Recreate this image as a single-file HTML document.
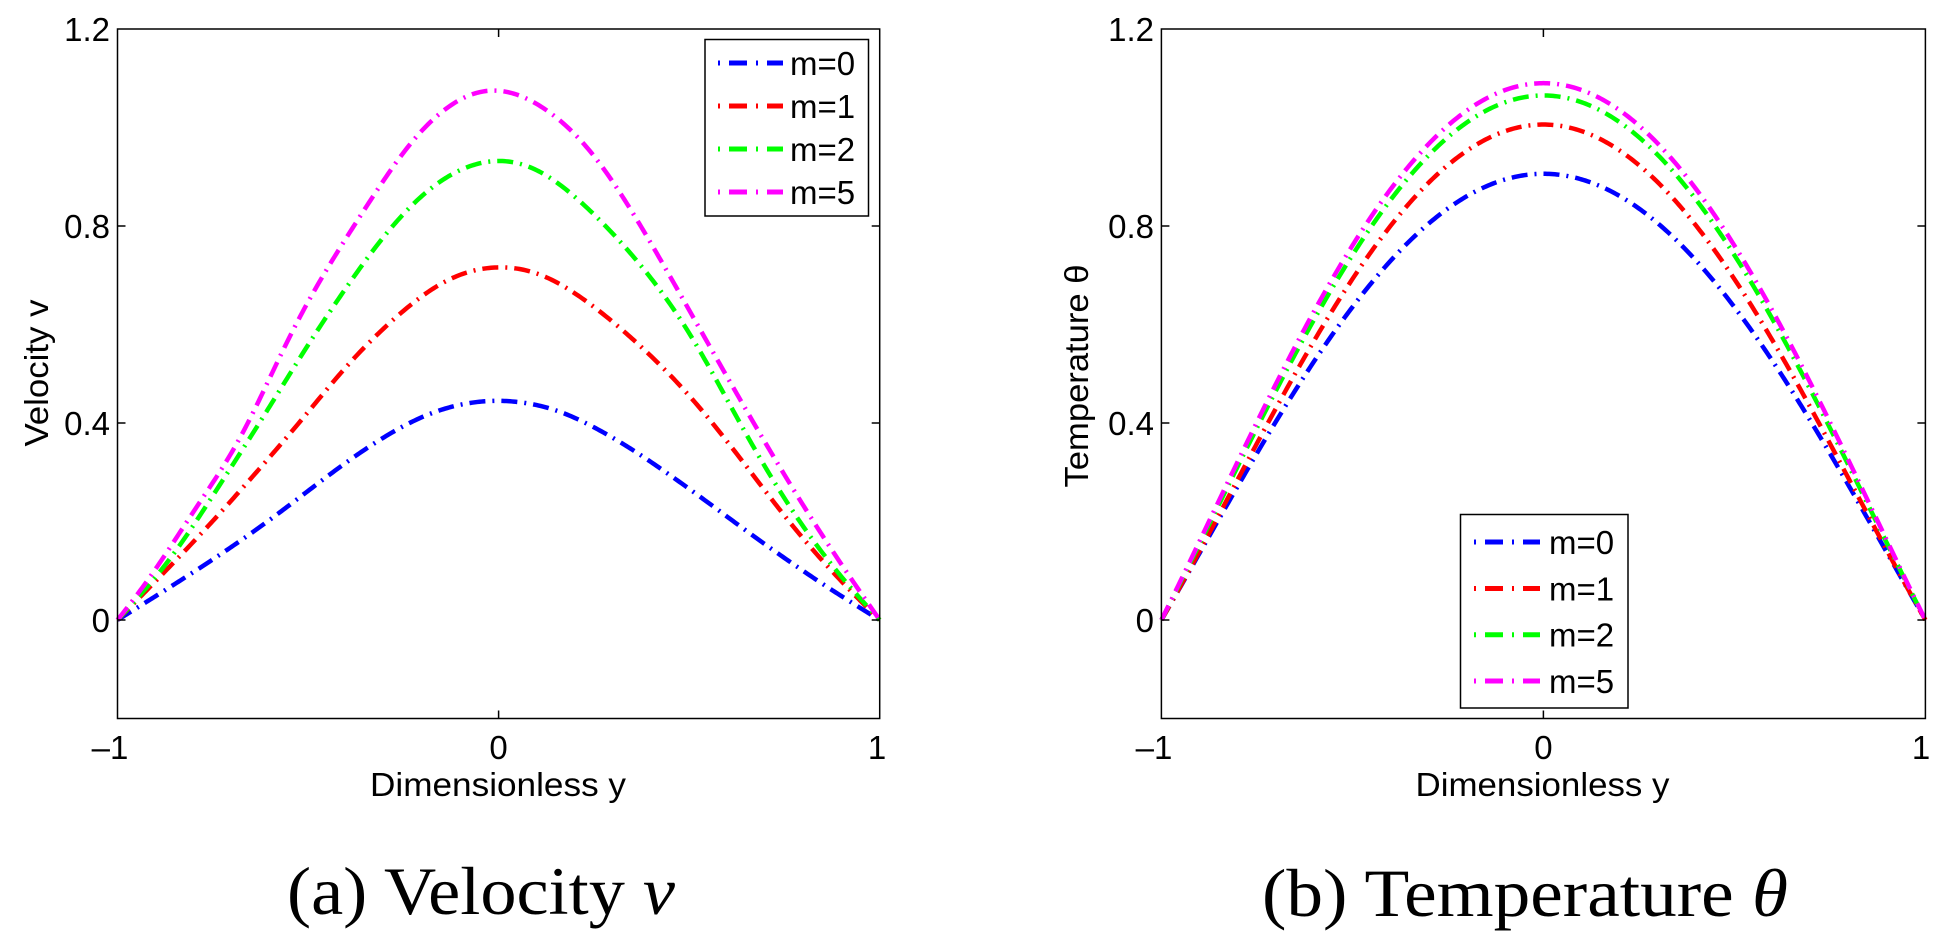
<!DOCTYPE html>
<html><head><meta charset="utf-8"><style>
html,body{margin:0;padding:0;background:#fff;}
svg{display:block;}
text{font-family:"Liberation Sans",sans-serif;fill:#000;}
.cap{font-family:"Liberation Serif",serif;}
</style></head><body>
<svg id="s" width="1946" height="948" viewBox="0 0 1946 948" xmlns="http://www.w3.org/2000/svg">
<rect width="1946" height="948" fill="#fff"/>
<g id="curves"></g>
<rect x="117.5" y="29" width="762.2" height="689.5" fill="none" stroke="#000" stroke-width="1.5"/>
<g stroke="#000" stroke-width="1.5">
<line x1="117.5" y1="620" x2="125.5" y2="620"/><line x1="117.5" y1="423" x2="125.5" y2="423"/><line x1="117.5" y1="226" x2="125.5" y2="226"/>
<line x1="879.7" y1="620" x2="871.7" y2="620"/><line x1="879.7" y1="423" x2="871.7" y2="423"/><line x1="879.7" y1="226" x2="871.7" y2="226"/>
<line x1="498.6" y1="718.5" x2="498.6" y2="710.5"/><line x1="498.6" y1="29" x2="498.6" y2="37"/>
<line x1="1161.4" y1="620" x2="1169.4" y2="620"/><line x1="1161.4" y1="423" x2="1169.4" y2="423"/><line x1="1161.4" y1="226" x2="1169.4" y2="226"/>
<line x1="1925.4" y1="620" x2="1917.4" y2="620"/><line x1="1925.4" y1="423" x2="1917.4" y2="423"/><line x1="1925.4" y1="226" x2="1917.4" y2="226"/>
<line x1="1543.4" y1="718.5" x2="1543.4" y2="710.5"/><line x1="1543.4" y1="29" x2="1543.4" y2="37"/>
</g>
<rect x="1161.4" y="29" width="764" height="689.5" fill="none" stroke="#000" stroke-width="1.5"/>
<g font-size="33" text-anchor="end">
<text x="110" y="632">0</text><text x="110" y="435">0.4</text><text x="110" y="238">0.8</text><text x="110" y="41">1.2</text>
<text x="1154" y="632">0</text><text x="1154" y="435">0.4</text><text x="1154" y="238">0.8</text><text x="1154" y="41">1.2</text>
</g>
<g font-size="33" text-anchor="middle">
<text x="110" y="759">–1</text><text x="498.6" y="759">0</text><text x="877" y="759">1</text>
<text x="1154" y="759">–1</text><text x="1543.4" y="759">0</text><text x="1921" y="759">1</text>
<text x="498" y="796" textLength="256" lengthAdjust="spacingAndGlyphs">Dimensionless y</text>
<text x="1542.5" y="796" textLength="254" lengthAdjust="spacingAndGlyphs">Dimensionless y</text>
<text transform="translate(48,373) rotate(-90)" textLength="147" lengthAdjust="spacingAndGlyphs">Velocity v</text>
<text transform="translate(1088,376) rotate(-90)" textLength="223" lengthAdjust="spacingAndGlyphs">Temperature θ</text>
</g>
<text class="cap" x="287" y="914" font-size="68" textLength="388" lengthAdjust="spacingAndGlyphs">(a)  Velocity <tspan font-style="italic">v</tspan></text>
<text class="cap" x="1262" y="916" font-size="68" textLength="526" lengthAdjust="spacingAndGlyphs">(b)  Temperature <tspan font-style="italic">θ</tspan></text>
<rect x="705" y="39.5" width="163.5" height="176.5" fill="#fff" stroke="#000" stroke-width="1.5"/>
<rect x="1460.5" y="514.5" width="167.5" height="193.5" fill="#fff" stroke="#000" stroke-width="1.5"/>
<g id="leg"></g>
</svg>
<script>
const NS="http://www.w3.org/2000/svg";
const cols=["#0000ff","#ff0000","#00ff00","#ff00ff"];
const dash="16 7 2 7";
function lin(pts,u){
  for(let i=0;i<pts.length-1;i++){const a=pts[i],b=pts[i+1];
    if(u>=a[0]&&u<=b[0]){const t=(u-a[0])/(b[0]-a[0]);return a[1]+t*(b[1]-a[1]);}}
  return 0;
}
const left=[
 [[-1,0],[-0.897,0.049],[-0.757,0.117],[-0.608,0.195],[-0.477,0.273],[-0.337,0.352],[-0.198,0.413],[-0.11,0.434],[0,0.445],[0.152,0.427],[0.327,0.356],[0.502,0.263],[0.677,0.163],[0.852,0.070],[1,0]],
 [[-1,0],[-0.854,0.114],[-0.74,0.206],[-0.626,0.306],[-0.512,0.405],[-0.407,0.509],[-0.285,0.602],[-0.162,0.680],[-0.075,0.708],[0,0.716],[0.109,0.705],[0.24,0.640],[0.371,0.555],[0.502,0.455],[0.634,0.327],[0.765,0.192],[0.896,0.078],[1,0]],
 [[-1,0],[-0.862,0.114],[-0.722,0.284],[-0.626,0.395],[-0.495,0.562],[-0.399,0.669],[-0.302,0.776],[-0.189,0.868],[-0.101,0.911],[0,0.932],[0.109,0.911],[0.24,0.826],[0.371,0.719],[0.502,0.584],[0.634,0.391],[0.765,0.220],[0.896,0.085],[1,0]],
 [[-1,0],[-0.915,0.078],[-0.784,0.242],[-0.67,0.356],[-0.582,0.527],[-0.46,0.698],[-0.355,0.819],[-0.232,0.968],[-0.101,1.057],[0,1.075],[0.109,1.040],[0.24,0.954],[0.371,0.797],[0.502,0.619],[0.634,0.441],[0.765,0.270],[0.896,0.113],[1,0]]
];
const peaks=[0.445,0.716,0.932,1.075];
const N=400;
function smoothVals(pts,peak){
  let v=[];for(let k=0;k<=N;k++)v.push(lin(pts,-1+2*k/N));
  for(let pass=0;pass<4;pass++){
    const w=[];const R=10;
    for(let k=0;k<=N;k++){
      if(k===0||k===N){w.push(0);continue;}
      let s=0,c=0;
      for(let j=-R;j<=R;j++){let idx=k+j,sg=1;
        if(idx<0){idx=-idx;sg=-1;} if(idx>N){idx=2*N-idx;sg=-1;}
        s+=sg*v[idx];c++;}
      w.push(s/c);
    }
    v=w;
  }
  const m=Math.max(...v);return v.map(x=>x*peak/m);
}
const g=document.getElementById("curves");
function drawVals(vals,x0,xc,col){
  let d="";
  for(let k=0;k<=N;k++){const u=-1+2*k/N;
    const X=xc+u*(xc-x0),Y=620-vals[k]*492.5;
    d+=(k?"L":"M")+X.toFixed(2)+" "+Y.toFixed(2);}
  const p=document.createElementNS(NS,"path");
  p.setAttribute("d",d);p.setAttribute("fill","none");p.setAttribute("stroke",col);
  p.setAttribute("stroke-width","4.5");p.setAttribute("stroke-dasharray",dash);
  g.appendChild(p);
}
for(let i=0;i<4;i++) drawVals(smoothVals(left[i],peaks[i]),117.5,498.6,cols[i]);
const rp=[0.906,1.006,1.065,1.09], rc=[-0.26,-0.33,-0.29,-0.28];
for(let i=0;i<4;i++){
  const v=[];for(let k=0;k<=N;k++){const u=-1+2*k/N;v.push(rp[i]*(1-u*u)*(1+rc[i]*u*u));}
  drawVals(v,1161.4,1543.4,cols[i]);
}
const lg=document.getElementById("leg");
function legend(x1,x2,tx,ys){
  const labs=["m=0","m=1","m=2","m=5"];
  ys.forEach((y,i)=>{
    const l=document.createElementNS(NS,"line");
    l.setAttribute("x1",x1);l.setAttribute("x2",x2);l.setAttribute("y1",y);l.setAttribute("y2",y);
    l.setAttribute("stroke",cols[i]);l.setAttribute("stroke-width","5");l.setAttribute("stroke-dasharray","2 9 18 9");
    lg.appendChild(l);
    const t=document.createElementNS(NS,"text");
    t.setAttribute("x",tx);t.setAttribute("y",y+12);t.setAttribute("font-size","33");
    t.textContent=labs[i];lg.appendChild(t);
  });
}
legend(718,783,790,[63,106,149,192]);
legend(1474,1540,1549,[542,588.5,634.7,681]);
</script>
</body></html>
